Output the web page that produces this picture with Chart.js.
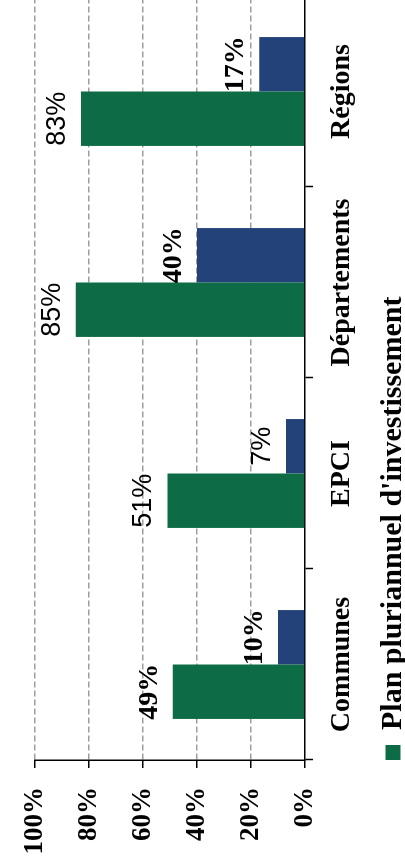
<!DOCTYPE html>
<html>
<head>
<meta charset="utf-8">
<script src="https://cdn.jsdelivr.net/npm/chart.js@4"></script>
<style>
  html, body { margin: 0; padding: 0; width: 405px; height: 868px; overflow: hidden; background: #fff; }
  #wrap { position: absolute; left: 0; top: 0; width: 876px; height: 418px;
          transform-origin: 0 0; transform: translateY(872px) rotate(-90deg); }
</style>
</head>
<body>
<div id="wrap"><canvas id="graf" width="876" height="418"></canvas></div>
<script>
const categorias = ["Communes", "EPCI", "Départements", "Régions"];
const planPluriannuel = [49, 51, 85, 83];
const serie2 = [10, 7, 40, 17];
const ticksValeur = [0, 20, 40, 60, 80, 100];

// rotulos em negrito (serif) ou normal (sans), como no original
const rotuloNegrito = [
  [true, false, false, false],
  [true, false, true, true]
];

Chart.defaults.font.family = "'Liberation Serif', serif";
Chart.defaults.font.weight = "bold";
Chart.defaults.color = "#000";

const rotulos = {
  id: "rotulos",
  afterDatasetsDraw(chart) {
    const ctx = chart.ctx;
    chart.data.datasets.forEach((ds, i) => {
      chart.getDatasetMeta(i).data.forEach((bar, j) => {
        ctx.save();
        ctx.font = rotuloNegrito[i][j] ? "bold 28px 'Liberation Serif'" : "27px 'Liberation Sans'";
        ctx.fillStyle = "#000";
        ctx.textAlign = "center";
        ctx.textBaseline = "alphabetic";
        ctx.fillText(ds.data[j] + "%", bar.x, bar.y - 16);
        ctx.restore();
      });
    });
  }
};

new Chart(document.getElementById("graf"), {
  type: "bar",
  data: {
    labels: categorias,
    datasets: [
      { label: "Plan pluriannuel d'investissement", data: planPluriannuel, backgroundColor: "#0d6b45" },
      { label: "Série 2", data: serie2, backgroundColor: "#23427a" }
    ]
  },
  options: {
    responsive: false,
    animation: false,
    categoryPercentage: 0.57,
    barPercentage: 1,
    layout: { padding: { top: 9, left: 17.5, right: 0, bottom: 0 } },
    scales: {
      x: {
        grid: { drawOnChartArea: false, offset: true, tickLength: 8, tickColor: "#000", tickWidth: 1.5 },
        border: { color: "#000", width: 1.5 },
        ticks: { padding: 11.7, maxRotation: 0, autoSkip: false, color: "#000", font: { size: 28, weight: "bold" } }
      },
      y: {
        min: 0,
        max: 100,
        afterBuildTicks: s => { s.ticks = ticksValeur.map(v => ({ value: v })); },
        afterFit: s => { s.width = 94.5; },
        grid: {
          color: c => (c.tick && c.tick.value === 0) ? "rgba(0,0,0,0)" : "#9e9e9e",
          lineWidth: 1.5,
          tickLength: 8, tickColor: "#000", tickWidth: 1.5
        },
        border: { color: "#000", width: 1.5, dash: [6, 3] },
        ticks: { padding: 19, color: "#000", font: { size: 27, weight: "bold" }, callback: v => v + "%" }
      }
    },
    plugins: {
      tooltip: { enabled: false },
      legend: {
        position: "bottom",
        align: "start",
        fullSize: false,
        title: { display: true, text: "", padding: { top: 6, bottom: 0 }, font: { size: 2, lineHeight: 1 } },
        labels: {
          boxWidth: 15, boxHeight: 15, padding: 0, color: "#000",
          font: { size: 30, weight: "bold" },
          filter: item => item.datasetIndex === 0
        }
      }
    }
  },
  plugins: [rotulos]
});
</script>
</body>
</html>
